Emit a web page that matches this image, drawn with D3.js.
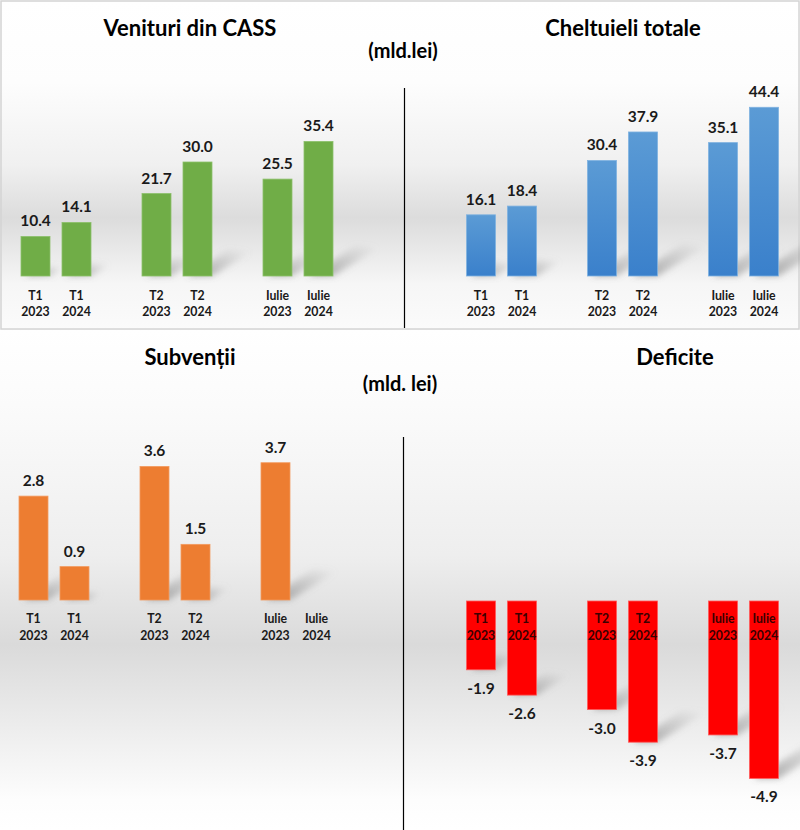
<!DOCTYPE html>
<html>
<head>
<meta charset="utf-8">
<script src="https://cdn.jsdelivr.net/npm/d3@7"></script>
<style>
  html, body { margin: 0; padding: 0; background: #ffffff; }
  svg { display: block; }
  text { font-family: Lato, "Open Sans", "DejaVu Sans", sans-serif; font-weight: 700; }
</style>
</head>
<body>
<div id="chart"></div>
<script>
// ---------------- DATA ----------------
const categories = ["T1", "T2", "Iulie"];
const years = ["2023", "2024"];

const venituri2023 = [10.4, 21.7, 25.5];
const venituri2024 = [14.1, 30.0, 35.4];

const cheltuieli2023 = [16.1, 30.4, 35.1];
const cheltuieli2024 = [18.4, 37.9, 44.4];

const subventii2023 = [2.8, 3.6, 3.7];
const subventii2024 = [0.9, 1.5, null];

const deficite2023 = [-1.9, -3.0, -3.7];
const deficite2024 = [-2.6, -3.9, -4.9];

const titles = ["Venituri din CASS", "Cheltuieli totale", "Subvenții", "Deficite"];
const unitTop = "(mld.lei)";
const unitBottom = "(mld. lei)";

// ---------------- SETUP ----------------
const W = 800, H = 830;
const svg = d3.select("#chart").append("svg").attr("width", W).attr("height", H);
const defs = svg.append("defs");

function vGrad(id, stops) {
  const g = defs.append("linearGradient").attr("id", id)
    .attr("x1", 0).attr("y1", 0).attr("x2", 0).attr("y2", 1);
  stops.forEach(s => g.append("stop").attr("offset", s[0]).attr("stop-color", s[1]));
}
vGrad("bgTop", [[0, "#ffffff"], [0.25, "#fdfdfd"], [0.5, "#f0f0f0"], [0.66, "#dcdcdc"], [0.73, "#e5e5e5"], [0.86, "#f6f6f6"], [1, "#fbfbfb"]]);
vGrad("bgBottom", [[0, "#ffffff"], [0.15, "#fbfbfb"], [0.45, "#eeeeee"], [0.63, "#dadada"], [0.70, "#e2e2e2"], [0.94, "#fdfdfd"], [1, "#ffffff"]]);
vGrad("blueBar", [[0, "#5b9bd5"], [1, "#3a80cb"]]);

// shadow gradient + blur
const sg = defs.append("linearGradient").attr("id", "shadowGrad")
  .attr("x1", 0).attr("y1", 1).attr("x2", 1).attr("y2", 0);
sg.append("stop").attr("offset", 0).attr("stop-color", "#666666").attr("stop-opacity", 0.6);
sg.append("stop").attr("offset", 0.6).attr("stop-color", "#8a8a8a").attr("stop-opacity", 0.28);
sg.append("stop").attr("offset", 1).attr("stop-color", "#a0a0a0").attr("stop-opacity", 0);
defs.append("filter").attr("id", "blur").attr("x", "-50%").attr("y", "-50%").attr("width", "200%").attr("height", "200%")
  .append("feGaussianBlur").attr("stdDeviation", 3);

// backgrounds
svg.append("rect").attr("x", 0).attr("y", 0).attr("width", W).attr("height", 330).attr("fill", "url(#bgTop)");
svg.append("rect").attr("x", 0).attr("y", 330).attr("width", W).attr("height", 500).attr("fill", "url(#bgBottom)");
svg.append("rect").attr("x", 1).attr("y", 1).attr("width", W - 2).attr("height", 328)
  .attr("fill", "none").attr("stroke", "#d4d4d4").attr("stroke-width", 1.5);

// dividers
svg.append("line").attr("x1", 404.5).attr("x2", 404.5).attr("y1", 88).attr("y2", 328).attr("stroke", "#000").attr("stroke-width", 1.2);
svg.append("line").attr("x1", 403.5).attr("x2", 403.5).attr("y1", 437).attr("y2", 830).attr("stroke", "#000").attr("stroke-width", 1.2);

// titles
function title(txt, x, y, size) {
  svg.append("text").attr("x", x).attr("y", y).attr("text-anchor", "middle")
    .attr("font-size", size).attr("fill", "#000").text(txt);
}
title(titles[0], 190, 36, 22);
title(titles[1], 623, 36, 22);
title(titles[2], 190, 365, 22);
title(titles[3], 675, 365, 22);
title(unitTop, 403, 58, 20);
title(unitBottom, 400, 391, 20);

const fmtBase = d3.format(".1f");
const fmt = v => fmtBase(v).replace("\u2212", "-");

function drawChart(opt) {
  const g = svg.append("g");
  const x0 = d3.scaleBand().domain(categories).range(opt.xRange).paddingInner(0).paddingOuter(0);
  const x1 = d3.scaleBand().domain(years).range([0, x0.bandwidth()]).paddingInner(0.293).paddingOuter(0.622);
  const y = d3.scaleLinear().domain(opt.yDomain).range(opt.yRange);

  const rows = [];
  categories.forEach((c, i) => {
    rows.push({ cat: c, year: years[0], v: opt.s2023[i] });
    rows.push({ cat: c, year: years[1], v: opt.s2024[i] });
  });
  const bars = rows.filter(d => d.v !== null && d.v !== undefined);
  const bx = d => x0(d.cat) + x1(d.year);
  const bw = x1.bandwidth();

  // shadows
  g.selectAll("polygon.sh").data(bars).join("polygon")
    .attr("points", d => {
      const end = y(d.v), base = y(0);
      const h = Math.abs(end - base);
      const dx = 0.34 * h, dy = 0.21 * h;
      const xa = bx(d), xb = bx(d) + bw;
      const yb = d.v >= 0 ? base : end;
      return [[xa + 4, yb], [xb, yb], [xb + dx, yb - dy], [xa + dx + 6, yb - dy - 2]].map(p => p.join(",")).join(" ");
    })
    .attr("fill", "url(#shadowGrad)").attr("filter", "url(#blur)");

  // bars
  g.selectAll("rect.bar").data(bars).join("rect")
    .attr("x", d => bx(d))
    .attr("y", d => Math.min(y(d.v), y(0)))
    .attr("width", bw)
    .attr("height", d => Math.abs(y(d.v) - y(0)))
    .attr("fill", opt.fill)
    .attr("stroke", opt.edge).attr("stroke-width", 0.8);

  // value labels
  g.selectAll("text.val").data(bars).join("text")
    .attr("x", d => bx(d) + bw / 2)
    .attr("y", d => d.v >= 0 ? y(d.v) - 10 : y(d.v) + 24)
    .attr("text-anchor", "middle").attr("font-size", 15.5).attr("fill", "#1a1a1a")
    .text(d => fmt(d.v));

  // category labels (two lines)
  const lab = g.selectAll("text.cat").data(rows).join("text")
    .attr("text-anchor", "middle").attr("font-size", 12.3).attr("fill", opt.catColor);
  lab.append("tspan").attr("x", d => bx(d) + bw / 2).attr("y", opt.catY1).text(d => d.cat);
  lab.append("tspan").attr("x", d => bx(d) + bw / 2).attr("y", opt.catY2).text(d => d.year);
}

drawChart({ s2023: venituri2023, s2024: venituri2024, xRange: [-4.5, 358.5], yDomain: [0, 40], yRange: [276, 124],
  fill: "#70ad47", edge: "#8cc06a", catY1: 300, catY2: 316, catColor: "#1a1a1a" });
drawChart({ s2023: cheltuieli2023, s2024: cheltuieli2024, xRange: [441, 804], yDomain: [0, 40], yRange: [276, 124],
  fill: "url(#blueBar)", edge: "#7fb2e0", catY1: 300, catY2: 316, catColor: "#1a1a1a" });
drawChart({ s2023: subventii2023, s2024: subventii2024, xRange: [-6.5, 356.5], yDomain: [0, 4], yRange: [600, 451.6],
  fill: "#ed7d31", edge: "#f39a5e", catY1: 623, catY2: 640, catColor: "#1a1a1a" });
drawChart({ s2023: deficite2023, s2024: deficite2024, xRange: [441, 804], yDomain: [-5, 0], yRange: [782, 601],
  fill: "#ff0000", edge: "#ff5a5a", catY1: 623, catY2: 640, catColor: "#3a0000" });
</script>
</body>
</html>
